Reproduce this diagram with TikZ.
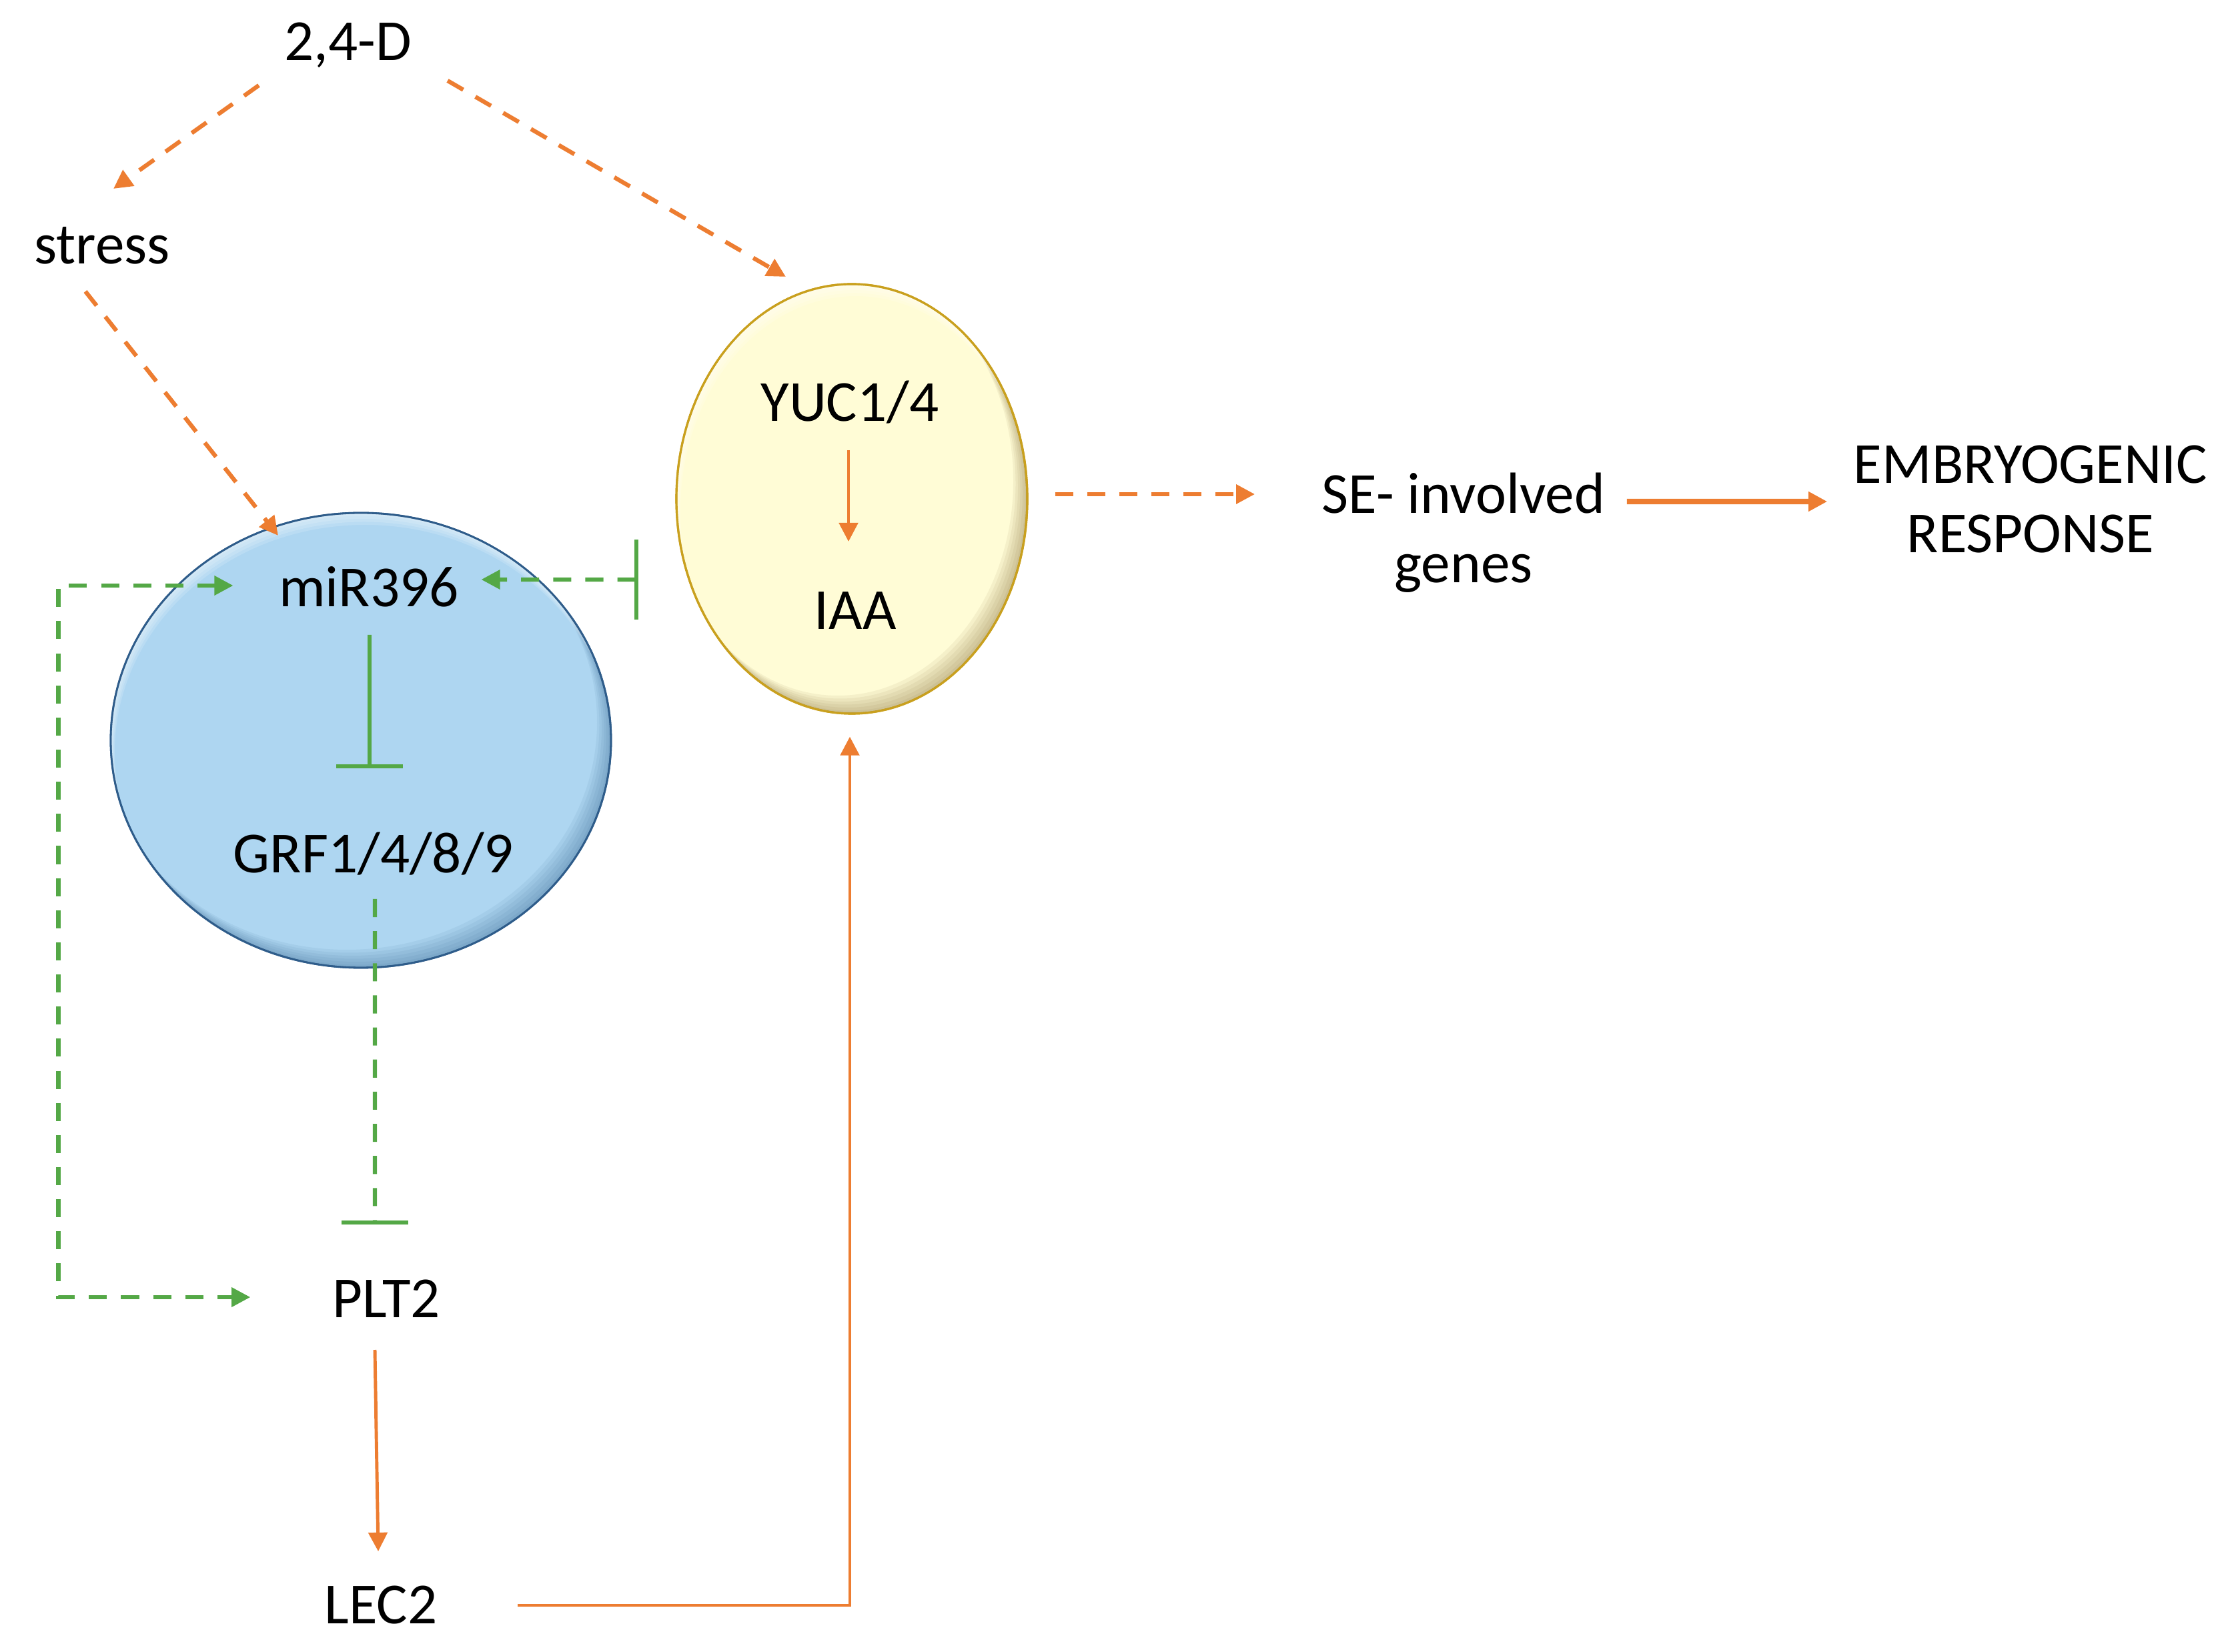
\documentclass[tikz,border=0pt]{standalone}
\usepackage{fontspec}
\setmainfont{Carlito}
\usetikzlibrary{arrows.meta,shapes.geometric}
\definecolor{seorange}{RGB}{237,125,49}
\definecolor{segreen}{RGB}{84,168,70}
\definecolor{cellblue}{RGB}{174,214,241}
\definecolor{cellrim}{RGB}{46,92,138}
\definecolor{cellyellow}{RGB}{255,252,214}
\definecolor{yellowrim}{RGB}{201,160,30}
\definecolor{yellowshade}{RGB}{120,95,40}
\newcommand{\bevelcell}[4]{\begin{scope}
		\clip (#1.center) ellipse (#2 and #3);
		\foreach \k in {1,...,6}
			\fill[#4, opacity=0.07, even odd rule] (#1.center) ellipse (#2 and #3) ([shift={(-0.035*\k,0.045*\k)}]#1.center) ellipse (#2 and #3);
		\foreach \k in {1,...,4}
			\fill[white, opacity=0.15, even odd rule] (#1.center) ellipse (#2 and #3) ([shift={(0.015*\k,-0.045*\k)}]#1.center) ellipse (#2 and #3);
	\end{scope}}
\tikzset{
	gene/.style={inner sep=0pt, align=center, font=\fontsize{24.8}{29.6}\selectfont},
	bluecell/.style={ellipse, draw=cellrim, line width=0.8pt, fill=cellblue, inner sep=0pt, minimum width=7.5cm, minimum height=6.82cm},
	yellowcell/.style={ellipse, draw=yellowrim, line width=0.9pt, fill=cellyellow, inner sep=0pt, minimum width=5.26cm, minimum height=6.44cm},
	tip/.style={-{Triangle[length=8pt,width=8pt]}},
	oact/.style={seorange, line width=1.4pt, tip},
	oactdash/.style={oact, line width=1.8pt, dash pattern=on 7.7pt off 6pt},
	gactdash/.style={segreen, line width=1.8pt, dash pattern=on 7.7pt off 6pt},
	ginh/.style={segreen, line width=1.6pt}
}

\begin{document}
\begin{tikzpicture}

	\useasboundingbox (0,0) rectangle (33.40,24.76);

	\node[bluecell] (grfcell) at (5.41,13.66) {};
	\node[yellowcell] (yuccell) at (12.77,17.28) {};
	\bevelcell{grfcell}{3.75}{3.41}{cellrim}
	\bevelcell{yuccell}{2.63}{3.22}{yellowshade}
	\draw[cellrim, line width=0.8pt] (grfcell.center) ellipse (3.75 and 3.41);
	\draw[yellowrim, line width=0.9pt] (yuccell.center) ellipse (2.63 and 3.22);

	\node[gene] (d24) at (5.22,24.08) {2,4-D};
	\node[gene] (stress) at (1.53,21.08) {stress};
	\node[gene] (yuc) at (12.74,18.73) {YUC1/4};
	\node[gene] (iaa) at (12.82,15.60) {IAA};
	\node[gene] (mir) at (5.53,15.96) {miR396};
	\node[gene] (grf) at (5.60,11.96) {GRF1/4/8/9};
	\node[gene] (plt) at (5.79,5.29) {PLT2};
	\node[gene] (lec) at (5.71,0.69) {LEC2};
	\node[gene] (se) at (21.94,16.77) {SE- involved\\genes};
	\node[gene] (emb) at (30.44,17.27) {EMBRYOGENIC\\RESPONSE};

	\draw[oactdash] ([shift={(-1.34,-0.60)}]d24.center) -- ([shift={(0.17,0.85)}]stress.center);
	\draw[oactdash] ([shift={(1.49,-0.53)}]d24.center) -- ([shift={(-0.99,3.33)}]yuccell.center);
	\draw[oactdash] ([shift={(-0.25,-0.69)}]stress.center) -- ([shift={(-1.24,3.07)}]grfcell.center);
	\draw[oact] ([shift={(-0.02,-0.72)}]yuc.center) -- ([shift={(-0.10,1.04)}]iaa.center);
	\draw[oactdash] ([shift={(0.40,0.07)}]yuccell.east) -- ([shift={(-1.00,0.58)}]se.west);
	\draw[oact, line width=2.4pt] ([shift={(0.32,0.47)}]se.east) -- ([shift={(-0.39,-0.03)}]emb.west);

	\draw[gactdash, {Bar[width=12mm]}-{Triangle[length=8pt,width=8pt]}] ([shift={(-0.55,-1.21)}]yuccell.west) -- ([shift={(0.33,0.11)}]mir.east);
	\draw[gactdash, {Triangle[length=8pt,width=8pt]}-{Triangle[length=8pt,width=8pt]}] ([shift={(-0.68,0.02)}]mir.west) -- ++(-2.62,0) |- ([shift={(-1.22,0.02)}]plt.west);
	\draw[ginh, -{Bar[width=10mm]}] ([shift={(0.01,-0.72)}]mir.center) -- ([shift={(-0.06,1.28)}]grf.center);
	\draw[gactdash, -{Bar[width=10mm]}] ([shift={(0.02,-0.68)}]grf.center) -- ([shift={(-0.17,1.11)}]plt.center);

	\draw[oact] ([shift={(-0.17,-0.77)}]plt.center) -- ([shift={(-0.04,0.81)}]lec.center);
	\draw[oact] ([xshift=12mm]lec.east) -| ([shift={(-0.03,-0.33)}]yuccell.south);

\end{tikzpicture}
\end{document}
